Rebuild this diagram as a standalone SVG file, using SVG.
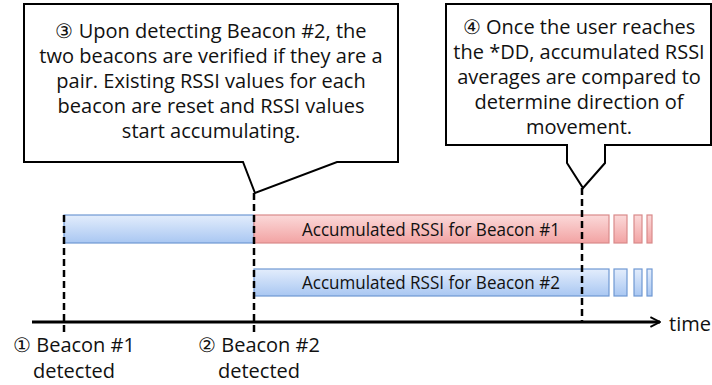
<svg xmlns="http://www.w3.org/2000/svg" width="712" height="385" viewBox="0 0 712 385">
<defs>
<linearGradient id="gb" x1="0" y1="0" x2="0" y2="1"><stop offset="0" stop-color="#e3edfc"/><stop offset="1" stop-color="#a9c7f2"/></linearGradient>
<linearGradient id="gr" x1="0" y1="0" x2="0" y2="1"><stop offset="0" stop-color="#fbd9d9"/><stop offset="1" stop-color="#f2a3a3"/></linearGradient>
<marker id="arr" viewBox="0 0 10 10" refX="9" refY="5" markerWidth="4" markerHeight="4" orient="auto" markerUnits="strokeWidth"><path d="M1,1 L9,5 L1,9" fill="none" stroke="#000" stroke-width="1.6"/></marker>
</defs>
<style>
.t{font-family:"Open Sans","Noto Sans",sans-serif;font-size:20px;fill:#111;text-anchor:middle}
.l{font-family:"Open Sans","Noto Sans",sans-serif;font-size:20px;fill:#111;text-anchor:middle}
.b{font-family:"Open Sans","Noto Sans",sans-serif;font-size:19px;fill:#111;text-anchor:middle}
.co{fill:#fff;stroke:#000;stroke-width:2;stroke-linejoin:miter}
.dash{stroke:#000;stroke-width:2.5;stroke-dasharray:7,4;fill:none}
.blue{fill:url(#gb);stroke:#6f98d3;stroke-width:1.2}
.red{fill:url(#gr);stroke:#d98a8a;stroke-width:1.2}
</style>
<rect width="712" height="385" fill="#fff"/>
<g id="callout3">
<path class="co" d="M24,4 H398 V162 H337 L255,193 L243,162 H24 Z"/>
<text class="t" x="211" y="38">③ Upon detecting Beacon #2, the</text>
<text class="t" x="211" y="63">two beacons are verified if they are a</text>
<text class="t" x="211" y="88">pair. Existing RSSI values for each</text>
<text class="t" x="211" y="113">beacon are reset and RSSI values</text>
<text class="t" x="211" y="138">start accumulating.</text>
</g>
<g id="callout4">
<path class="co" d="M446,4 H711 V145 H605 V163 L583,188 L567,163 V145 H446 Z"/>
<text class="t" x="579" y="34">④ Once the user reaches</text>
<text class="t" x="579" y="59">the *DD, accumulated RSSI</text>
<text class="t" x="579" y="84">averages are compared to</text>
<text class="t" x="579" y="109">determine direction of</text>
<text class="t" x="579" y="134">movement.</text>
</g>
<g id="bar-b1-pre">
<rect class="blue" x="64" y="215" width="190" height="28"/>
</g>
<g id="bar-b1">
<rect class="red" x="254" y="215" width="355" height="28"/>
<rect class="red" x="614" y="215" width="13" height="28"/>
<rect class="red" x="634" y="215" width="8" height="28"/>
<rect class="red" x="647" y="215" width="5" height="28"/>
<text class="b" x="431" y="236" textLength="258" lengthAdjust="spacingAndGlyphs">Accumulated RSSI for Beacon #1</text>
</g>
<g id="bar-b2">
<rect class="blue" x="254" y="269" width="355" height="27"/>
<rect class="blue" x="614" y="269" width="13" height="27"/>
<rect class="blue" x="634" y="269" width="8" height="27"/>
<rect class="blue" x="647" y="269" width="5" height="27"/>
<text class="b" x="431" y="289" textLength="258" lengthAdjust="spacingAndGlyphs">Accumulated RSSI for Beacon #2</text>
</g>
<g id="connectors">
<line class="dash" x1="64" y1="215" x2="64" y2="335"/>
<line class="dash" x1="254" y1="193" x2="254" y2="335"/>
<line class="dash" x1="582" y1="188" x2="582" y2="322"/>
<line x1="32" y1="322" x2="660" y2="322" stroke="#000" stroke-width="3" marker-end="url(#arr)"/>
</g>
<g id="label-time"><text class="l" x="669" y="331" style="text-anchor:start">time</text></g>
<g id="label1">
<text class="l" x="74" y="352">① Beacon #1</text>
<text class="l" x="74" y="378">detected</text>
</g>
<g id="label2">
<text class="l" x="259" y="352">② Beacon #2</text>
<text class="l" x="259" y="378">detected</text>
</g>
</svg>
